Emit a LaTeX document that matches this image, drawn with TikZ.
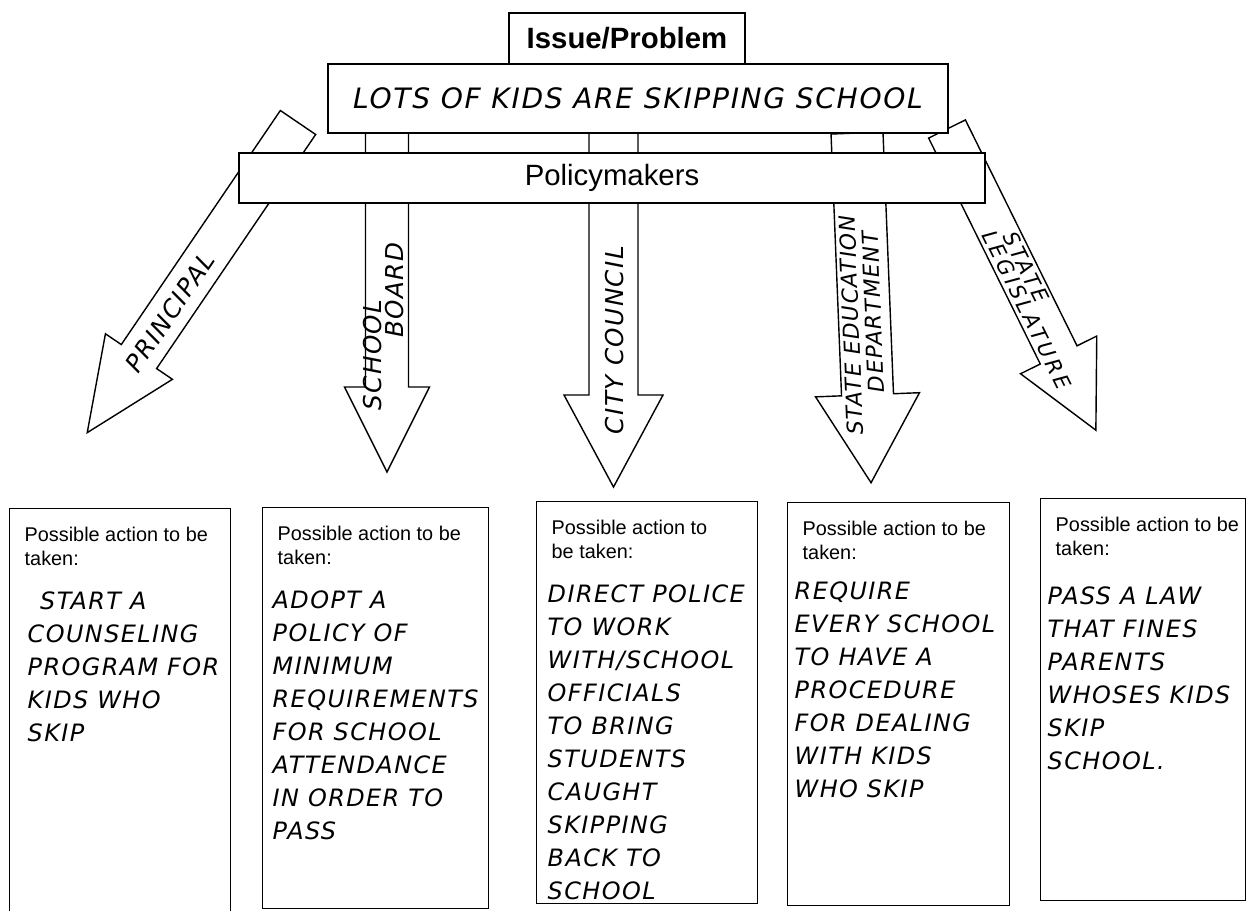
\documentclass[tikz,border=0pt]{standalone}
\usepackage{fontspec}
\setmainfont{Liberation Sans}
\newfontfamily\hand{DejaVu Sans}[LetterSpace=6]
\usetikzlibrary{positioning}

\newcommand{\handfont}{\hand\itshape\fontsize{13.6}{18.8}\selectfont}
% block arrow: tail x, tail y, angle, length, shaft width, head width, head length
\newcommand{\blockarrow}[7]{%
	\draw[arrow body, shift={(#1,#2)}, rotate=#3]
	(0,-#5/2) -- ({#4-#7},-#5/2) -- ({#4-#7},-#6/2) -- (#4,0)
	-- ({#4-#7},#6/2) -- ({#4-#7},#5/2) -- (0,#5/2) -- cycle;}

\begin{document}
\begin{tikzpicture}[x=0.02cm, y=-0.02cm, line width=0.8pt]
	\tikzstyle{box}=[draw, fill=white, inner sep=0pt]
	\tikzstyle{arrow body}=[draw, fill=white, line join=miter]
	\tikzstyle{action box}=[draw, anchor=north west, inner sep=0pt]
	\tikzstyle{header}=[align=left, inner sep=0pt, font=\fontsize{11.3}{13.7}\selectfont]
	\tikzstyle{handtext}=[align=left, inner sep=0pt, font=\handfont]
	\tikzstyle{handlabel}=[inner sep=0pt, font=\hand\itshape\fontsize{14}{16}\selectfont]
	\useasboundingbox (0,0) rectangle (1253,910);

	% Draw the arrows from the issue down to the actions
	\blockarrow{298}{122.5}{-124.2}{375}{42.7}{81}{92}
	\blockarrow{387}{133}{-90}{339}{43}{85}{85}
	\blockarrow{613.5}{133}{-90}{354}{49}{99}{92}
	\blockarrow{857}{133}{-87.7}{350}{52}{104}{88}
	\blockarrow{947}{129}{-63.7}{336}{41}{85}{84}

	% Draw the issue and the policymakers
	\node[box, minimum width=12.4cm, minimum height=1.38cm,
		font=\hand\itshape\fontsize{16}{20}\selectfont] (lots) at (638,98.5) {LOTS OF KIDS ARE SKIPPING SCHOOL};
	\node[box, minimum width=4.72cm, minimum height=1.02cm,
		font=\bfseries\fontsize{16.7}{20}\selectfont] (issue) at (627,38.5) {Issue/Problem};
	\node[box, minimum width=14.92cm, minimum height=1.0cm,
		font=\fontsize{16.7}{20}\selectfont] (policy) at (612,178) {Policymakers};

	% Label the arrows
	\node[handlabel, rotate=55.8] (principal) at (170,312) {PRINCIPAL};
	\node[handlabel, rotate=90] (school) at (373,355) {SCHOOL};
	\node[handlabel, rotate=90] (board) at (395,290) {BOARD};
	\node[handlabel, rotate=90] (city) at (615,340) {CITY COUNCIL};
	\node[handlabel, rotate=92.3, font=\hand\itshape\fontsize{12.5}{15}\selectfont] (stateed) at (851,325) {STATE EDUCATION};
	\node[handlabel, rotate=92.3, font=\hand\itshape\fontsize{12.5}{15}\selectfont] (dept) at (873,312) {DEPARTMENT};
	\node[handlabel, rotate=-63.7, font=\hand\itshape\addfontfeature{LetterSpace=15}\fontsize{12}{14}\selectfont] (state) at (1026,267) {STATE};
	\node[handlabel, rotate=-63.7, font=\hand\itshape\addfontfeature{LetterSpace=15}\fontsize{12}{14}\selectfont] (legis) at (1027,310) {LEGISLATURE};

	% Draw the action boxes
	\foreach \name/\x/\y/\w/\h in {1/9/508/221/404, 2/262/507/226/401, 3/536/501/221/402, 4/787/502/222/403, 5/1040/498/205/402}
	\node[action box, minimum width=\w*0.02cm, minimum height=\h*0.02cm] (A-\name) at (\x,\y) {};

	\foreach \name in {1,2,4,5}
	\node[header, below right=0.36cm and 0.3cm of A-\name.north west] (P-\name) {Possible action to be\\taken:};
	\node[header, below right=0.36cm and 0.3cm of A-3.north west] (P-3) {Possible action to\\be taken:};

	% Write the possible actions
	\node[handtext, below right=1.66cm and 0.36cm of A-1.north west] (T-1)
		{\hspace*{0.25cm}START A\\COUNSELING\\PROGRAM FOR\\KIDS WHO\\SKIP};
	\node[handtext, below right=1.66cm and 0.2cm of A-2.north west] (T-2)
		{ADOPT A\\POLICY OF\\MINIMUM\\REQUIREMENTS\\FOR SCHOOL\\ATTENDANCE\\IN ORDER TO\\PASS};
	\node[handtext, below right=1.66cm and 0.22cm of A-3.north west] (T-3)
		{DIRECT POLICE\\TO WORK\\WITH/SCHOOL\\OFFICIALS\\TO BRING\\STUDENTS\\CAUGHT\\SKIPPING\\BACK TO\\SCHOOL};
	\node[handtext, below right=1.58cm and 0.14cm of A-4.north west] (T-4)
		{REQUIRE\\EVERY SCHOOL\\TO HAVE A\\PROCEDURE\\FOR DEALING\\WITH KIDS\\WHO SKIP};
	\node[handtext, below right=1.76cm and 0.14cm of A-5.north west] (T-5)
		{PASS A LAW\\THAT FINES\\PARENTS\\WHOSES KIDS\\SKIP\\SCHOOL.};
\end{tikzpicture}
\end{document}
